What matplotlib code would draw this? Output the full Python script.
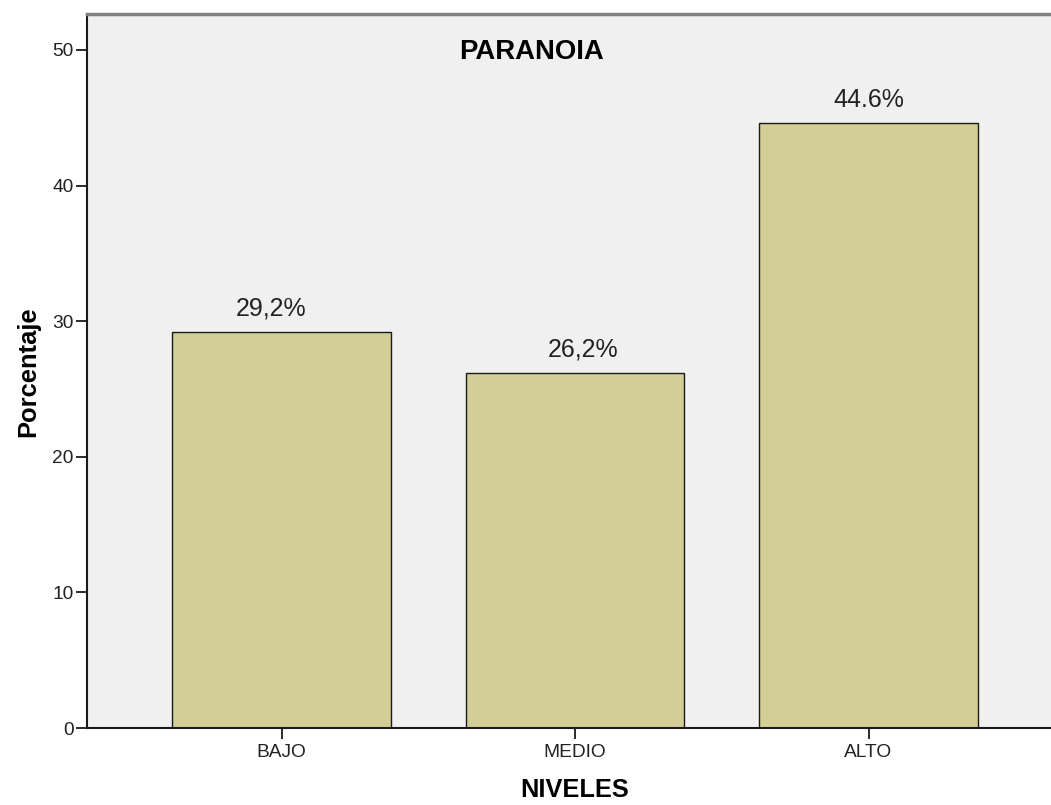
import matplotlib
matplotlib.use("Agg")
import matplotlib.pyplot as plt

plt.rcParams['font.family'] = ['Liberation Sans', 'DejaVu Sans']

# Data
categories = ["BAJO", "MEDIO", "ALTO"]
percentages = [29.2, 26.2, 44.6]
decimal_marks = [",", ",", "."]
y_ticks = [0, 10, 20, 30, 40, 50]

title = "PARANOIA"
x_label = "NIVELES"
y_label = "Porcentaje"

bar_color = "#D3CE98"
panel_color = "#F0F0F0"

# horizontal nudges (points) for the value labels above each bar
label_nudges = [-7.6, 5.8, 0.0]

fig = plt.figure(figsize=(10.51, 8.05), dpi=100)
ax = fig.add_axes([87 / 1051, 77 / 805, 964 / 1051, 714 / 805])
ax.set_facecolor(panel_color)

x = list(range(len(categories)))
bars = ax.bar(x, percentages, width=0.746, color=bar_color,
              edgecolor="#1a1a1a", linewidth=1.0, zorder=2)

for xi, val, mark, dx in zip(x, percentages, decimal_marks, label_nudges):
    label = f"{val:.1f}%".replace(".", mark)
    ax.annotate(label, xy=(xi, val), xytext=(dx, 8), textcoords="offset points",
                ha="center", va="bottom", fontsize=18, color="#222222")

ax.set_xlim(-0.6627, 2.6218)
ax.set_ylim(0, 52.65)
ax.set_xticks(x)
ax.set_xticklabels(categories)
ax.set_yticks(y_ticks)

ax.tick_params(axis="both", length=8, width=1.3, color="#1a1a1a",
               labelsize=13.8, labelcolor="#222222")
ax.tick_params(axis="y", pad=1.5)
ax.tick_params(axis="x", pad=3.5)

for side in ("left", "bottom"):
    ax.spines[side].set_color("#1a1a1a")
    ax.spines[side].set_linewidth(1.5)
ax.spines["top"].set_color("#808080")
ax.spines["top"].set_linewidth(2.5)
ax.spines["right"].set_visible(False)

ax.text(0.4606, 0.947, title, transform=ax.transAxes, ha="center", va="center",
        fontsize=19.8, fontweight="bold", color="#000000")

fig.text(575 / 1051, 1 - 790 / 805, x_label, ha="center", va="center",
         fontsize=18.3, fontweight="bold")
fig.text(28 / 1051, 1 - 372 / 805, y_label, ha="center", va="center",
         rotation=90, fontsize=18.4, fontweight="bold")

fig.savefig("out.png", dpi=100, facecolor="white")
